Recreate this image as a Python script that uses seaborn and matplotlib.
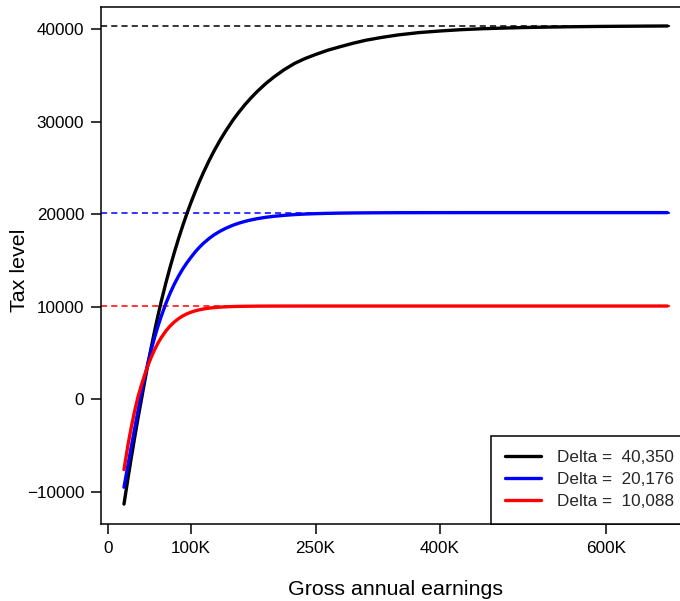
import pandas as pd
import matplotlib
matplotlib.use("Agg")
import matplotlib.pyplot as plt
from matplotlib.lines import Line2D
import seaborn as sns

# values
earnings = [19200, 24000, 28000, 32000, 36000, 40000, 44000, 48000, 52000, 56000,
            60000, 64000, 70000, 75000, 80000, 85000, 90000, 95000, 100000, 105000,
            110000, 115000, 122000, 128000, 135000, 142000, 150000, 157000, 165000,
            172000, 180000, 190000, 200000, 212000, 225000, 237000, 250000, 265000,
            280000, 295000, 310000, 330000, 350000, 375000, 400000, 425000, 450000,
            475000, 500000, 530000, 560000, 590000, 620000, 650000, 674000]

tax_delta_40350 = [-11300, -8520, -6290, -4140, -2060, -100, 1870, 3790, 5610, 7350,
                   9000, 10560, 12700, 14360, 15920, 17390, 18770, 20070, 21290, 22430,
                   23510, 24520, 25840, 26880, 28000, 29020, 30100, 30950, 31840,
                   32540, 33280, 34110, 34830, 35600, 36300, 36800, 37250, 37720,
                   38100, 38460, 38780, 39100, 39370, 39620, 39790, 39930, 40030,
                   40100, 40160, 40210, 40250, 40280, 40300, 40318, 40330]

tax_delta_20176 = [-9480, -7080, -5110, -3170, -1260, 600, 2330, 3920, 5360, 6670,
                   7870, 8960, 10440, 11520, 12480, 13330, 14090, 14760, 15360, 15930,
                   16430, 16870, 17400, 17790, 18170, 18490, 18800, 19020, 19230,
                   19380, 19525, 19670, 19780, 19880, 19965, 20020, 20063, 20098,
                   20123, 20139, 20151, 20161, 20167, 20171, 20173, 20174, 20175,
                   20176, 20176, 20176, 20176, 20176, 20176, 20176, 20176]

tax_delta_10088 = [-7580, -4900, -3000, -1250, 250, 1500, 2620, 3650, 4560, 5360,
                   6060, 6670, 7430, 7950, 8380, 8730, 9020, 9245, 9425, 9570,
                   9680, 9770, 9865, 9920, 9970, 10005, 10033, 10049, 10062,
                   10070, 10076, 10081, 10084, 10086, 10087, 10088, 10088, 10088,
                   10088, 10088, 10088, 10088, 10088, 10088, 10088, 10088, 10088,
                   10088, 10088, 10088, 10088, 10088, 10088, 10088, 10088]

deltas = [40350, 20176, 10088]
series_labels = ["Delta =  40,350", "Delta =  20,176", "Delta =  10,088"]
series_colors = ["#000000", "#0000FF", "#FF0000"]

x_ticks = [0, 100000, 250000, 400000, 600000]
x_tick_labels = ["0", "100K", "250K", "400K", "600K"]
y_ticks = [-10000, 0, 10000, 20000, 30000, 40000]

DASH_END = 680000

df = pd.DataFrame({
    "earnings": earnings * 3,
    "tax": tax_delta_40350 + tax_delta_20176 + tax_delta_10088,
    "series": [s for s in series_labels for _ in earnings],
})

sns.set_style("ticks")
plt.rcParams["font.family"] = ["Liberation Sans", "DejaVu Sans"]
plt.rcParams["lines.solid_capstyle"] = "round"

fig = plt.figure(figsize=(6.8, 6.01), dpi=100)
# plot region runs past the right edge of the picture, as in the reference
ax = fig.add_axes([101 / 680, 77 / 601, 588 / 680, 517 / 601])

ax.set_xlim(-8500, 700000)
ax.set_ylim(-13450, 42380)

for d, c in zip(deltas, series_colors):
    ax.hlines(d, -8500, DASH_END, colors=c, linestyles=(0, (4.0, 2.7)), linewidth=1.1)

sns.lineplot(data=df, x="earnings", y="tax", hue="series",
             palette=dict(zip(series_labels, series_colors)),
             linewidth=2.4, sort=False, estimator=None, legend=False, ax=ax)

ax.set_xticks(x_ticks)
ax.set_xticklabels(x_tick_labels)
ax.set_yticks(y_ticks)
ax.tick_params(axis="both", labelsize=12.3, length=7, width=1.1, color="black",
               labelcolor="black", direction="out", pad=5)

for sp in ax.spines.values():
    sp.set_visible(True)
    sp.set_color("black")
    sp.set_linewidth(1.1)

ax.set_xlabel("Gross annual earnings", fontsize=15.4, labelpad=17.5, color="black")
ax.set_ylabel("Tax level", fontsize=15.4, color="black")
ax.yaxis.set_label_coords(-0.122, 0.49)

handles = [Line2D([0], [0], color=c, linewidth=2.4) for c in series_colors]
leg = ax.legend(handles, series_labels, loc="lower right", fontsize=12.3,
                frameon=True, fancybox=False, edgecolor="black", framealpha=1,
                borderaxespad=0, borderpad=0.85, handlelength=2.1,
                handletextpad=0.95, labelspacing=0.42)
leg.get_frame().set_linewidth(1.1)

fig.savefig("out.png", dpi=100)
plt.close(fig)
